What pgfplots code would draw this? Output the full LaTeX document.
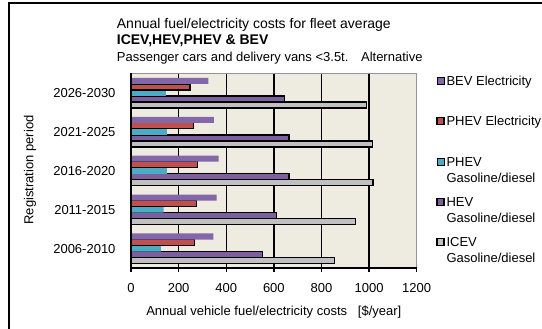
\documentclass[border=0pt]{standalone}
\usepackage{pgfplots}
\pgfplotsset{compat=1.18}
\usepackage{fontspec}
\setmainfont{Liberation Sans}
\definecolor{bevc}{HTML}{8467A8}
\definecolor{hevc}{HTML}{7D5FA0}
\definecolor{phevec}{HTML}{C0504D}
\definecolor{phevgc}{HTML}{4BACC6}
\definecolor{icevc}{HTML}{C0C0C0}
\definecolor{bgc}{HTML}{EEECE1}
\newcommand{\lentry}[2]{\begin{tabular}[t]{@{}l@{}}#1\\#2\end{tabular}}
\begin{document}
\begin{tikzpicture}
\useasboundingbox (0bp,0bp) rectangle (542bp,329bp);
\draw[line width=2bp] (9.3bp,0bp) -- (9.3bp,326bp) -- (542bp,326bp);
\node[anchor=base west, inner sep=0pt, font=\fontsize{14bp}{16bp}\selectfont] at (116.7bp,300.3bp) {Annual fuel/electricity costs for fleet average};
\node[anchor=base west, inner sep=0pt, font=\fontsize{14bp}{16bp}\selectfont\bfseries] at (116.7bp,284bp) {ICEV,HEV,PHEV \& BEV};
\node[anchor=base west, inner sep=0pt, font=\fontsize{13bp}{16bp}\selectfont] at (116.7bp,267bp) {Passenger cars and delivery vans <3.5t.};
\node[anchor=base east, inner sep=0pt, font=\fontsize{13bp}{16bp}\selectfont] at (422.7bp,267bp) {Alternative};
\begin{axis}[
  at={(131bp,61bp)}, anchor=south west,
  scale only axis, width=285.7bp, height=194.5bp,
  xmin=0, xmax=1200, ymin=-0.5, ymax=4.5,
  axis background/.style={fill=bgc},
  axis line style={draw=gray!85, line width=1.2bp},
  xtick={0,200,400,600,800,1000,1200},
  ytick={0,1,2,3,4},
  yticklabels={2006-2010,2011-2015,2016-2020,2021-2025,2026-2030},
  xtick pos=bottom, ytick pos=left,
  tick align=outside,
  major tick length=4bp,
  xtick style={black, line width=1.3bp},
  ytick style={draw=none},
  xmajorgrids,
  major grid style={black, line width=1.3bp},
  /pgf/number format/assume math mode=true,
  /pgf/number format/1000 sep={},
  tick label style={font=\fontsize{13bp}{16bp}\selectfont},
  yticklabel style={xshift=-8bp},
  xticklabel style={yshift=-8bp},
  label style={font=\fontsize{13bp}{16bp}\selectfont},
  xlabel={Annual vehicle fuel/electricity costs\ \ \ [\$/year]},
  ylabel={Registration period},
  x label style={at={(axis description cs:0.5,-0.2262)}, anchor=center},
  y label style={at={(axis description cs:-0.3535,0.504)}, anchor=center, rotate=0},
  reverse legend,
  legend image code/.code={\draw[#1] (0bp,1.2bp) rectangle (7bp,8.2bp);},
  legend style={at={(axis description cs:1.0676,1.0067)}, anchor=north west,
    draw=none, fill=none, inner sep=0pt, row sep=4.3bp, column sep=0pt,
    cells={anchor=base west}, nodes={inner sep=2bp, text depth={}},
    font=\fontsize{13bp}{16bp}\selectfont},
  extra description/.code={\draw[line width=2bp, black] (axis description cs:0,1) -- (axis description cs:0,0) -- (axis description cs:1,0);},
]
\addplot[xbar, bar width=0.155, bar shift=-0.31, fill=icevc, draw=black, line width=1.3bp]
  coordinates {(854,0) (944,1) (1016,2) (1015,3) (990,4)};
\addlegendentry{\lentry{ICEV}{Gasoline/diesel}}
\addplot[xbar, bar width=0.155, bar shift=-0.155, fill=hevc, draw=black, line width=1.3bp]
  coordinates {(553,0) (610,1) (664,2) (664,3) (644,4)};
\addlegendentry{\lentry{HEV}{Gasoline/diesel}}
\addplot[xbar, bar width=0.155, bar shift=0, fill=phevgc, draw=none]
  coordinates {(125,0) (137,1) (151,2) (151,3) (147,4)};
\addlegendentry{\lentry{PHEV}{Gasoline/diesel}}
\addplot[xbar, bar width=0.155, bar shift=0.155, fill=phevec, draw=black, line width=1.3bp]
  coordinates {(267,0) (274,1) (280,2) (263,3) (248,4)};
\addlegendentry{\lentry{PHEV Electricity}{\mbox{}}}
\addplot[xbar, bar width=0.155, bar shift=0.31, fill=bevc, draw=none]
  coordinates {(346,0) (360,1) (368,2) (348,3) (325,4)};
\addlegendentry{\lentry{BEV Electricity}{\mbox{}}}
\end{axis}
\end{tikzpicture}
\end{document}
